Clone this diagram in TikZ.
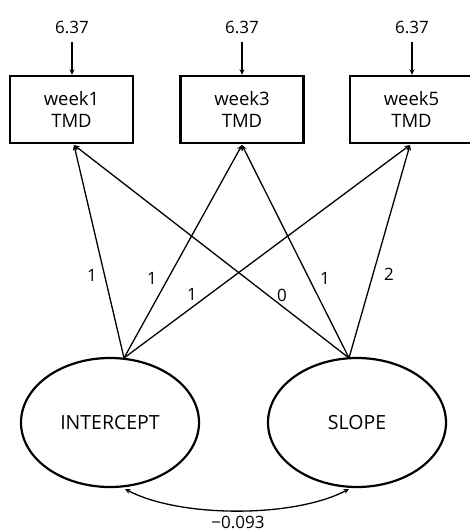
\documentclass[tikz,border=0pt]{standalone}
\usepackage{fontspec}
\setmainfont{Open Sans}
\usetikzlibrary{arrows.meta,shapes.geometric}
\begin{document}
\begin{tikzpicture}[x=1pt,y=-1pt,
  obs/.style={draw,line width=2.4pt,minimum width=123pt,minimum height=67pt,align=center,inner sep=0pt,font=\fontsize{18.5}{22}\selectfont},
  lat/.style={draw,ellipse,line width=2.2pt,minimum width=178pt,minimum height=129pt,inner sep=0pt,font=\fontsize{19.5}{22}\selectfont},
  lbl/.style={inner sep=0pt,font=\fontsize{17}{20}\selectfont},
  arr/.style={line width=1.3pt,-{Stealth[length=5.5pt,width=5pt]}},
  darr/.style={line width=1.3pt,{Stealth[length=5.5pt,width=5pt]}-{Stealth[length=5.5pt,width=5pt]}}]
\useasboundingbox (0,0) rectangle (469,532);
% observed variables
\node[obs] (w1) at (71.5,109.5) {week1\\TMD};
\node[obs] (w3) at (242,109.5) {week3\\TMD};
\node[obs] (w5) at (411.5,109.5) {week5\\TMD};
% latent variables
\node[lat] (I) at (110,422.5) {INTERCEPT};
\node[lat] (S) at (357,422.5) {SLOPE};
% intercept labels
\node[lbl] (t1) at (72,27) {6.37};
\node[lbl] (t3) at (242,27) {6.37};
\node[lbl] (t5) at (412,27) {6.37};
\coordinate (s1) at (72,42);
\coordinate (s3) at (242,42);
\coordinate (s5) at (412,42);
\draw[arr] (s1) -- (s1 |- w1.north);
\draw[arr] (s3) -- (s3 |- w3.north);
\draw[arr] (s5) -- (s5 |- w5.north);
% loading end points
\coordinate (ia) at (124,358);
\coordinate (sa) at (349,358);
\coordinate (e1) at (74,145);
\coordinate (e3) at (242,145);
\coordinate (e5) at (410,145);
\draw[arr] (ia) -- (e1);
\draw[arr] (ia) -- (e3);
\draw[arr] (ia) -- (e5);
\draw[arr] (sa) -- (e1);
\draw[arr] (sa) -- (e3);
\draw[arr] (sa) -- (e5);
% loading labels
\node[lbl] (l1) at (92,275) {1};
\node[lbl] (l2) at (152,278) {1};
\node[lbl] (l3) at (192,294) {1};
\node[lbl] (l4) at (282,295) {0};
\node[lbl] (l5) at (325,278) {1};
\node[lbl] (l6) at (389,274) {2};
% covariance
\coordinate (ib) at (125,489);
\coordinate (sb) at (349,489);
\draw[darr] (ib) .. controls (180,518) and (294,518) .. (sb);
\node[lbl] (cv) at (238,522.5) {−0.093};
\end{tikzpicture}
\end{document}
